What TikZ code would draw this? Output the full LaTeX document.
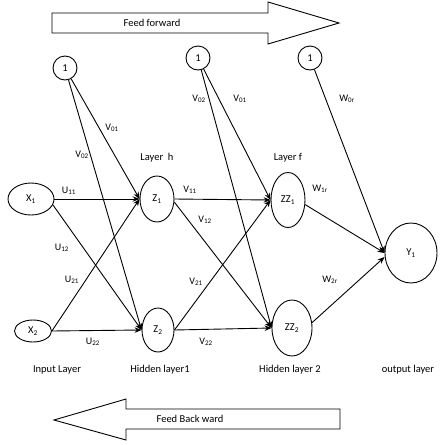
\documentclass[tikz,border=0pt]{standalone}
\usepackage{fontspec}
\setmainfont{Carlito}
\usetikzlibrary{arrows.meta, shapes.geometric}

\begin{document}
\begin{tikzpicture}[x=1pt, y=-1pt, line width=0.9pt,
  neuron/.style={draw, ellipse, inner sep=0pt, font=\fontsize{10.5}{12}\selectfont},
  bias/.style={draw, circle, minimum size=24pt, inner sep=0pt, font=\fontsize{10.5}{12}\selectfont},
  wt/.style={font=\fontsize{10}{12}\selectfont, inner sep=1pt},
  lbl/.style={font=\fontsize{10.5}{12}\selectfont, inner sep=1pt},
  conn/.style={-{Stealth[length=7pt,width=5.5pt]}},
]
  \useasboundingbox (0,0) rectangle (441,445);

  \draw (52,13) -- (268,13) -- (268,2) -- (339,23) -- (268,44) -- (268,33) -- (52,33) -- cycle;
  \node[lbl] (ff) at (152,23) {Feed forward};
  \draw (54,420) -- (126,399) -- (126,409) -- (340,409) -- (340,429) -- (126,429) -- (126,440) -- cycle;
  \node[lbl] (fb) at (190,419) {Feed Back ward};

  \node[bias] (b1) at (65,68) {1};
  \node[bias] (b2) at (198,58) {1};
  \node[bias] (b3) at (310,58) {1};
  \node[neuron, minimum width=46pt, minimum height=32pt] (x1) at (31,199) {X\textsubscript{1}};
  \node[neuron, minimum width=37pt, minimum height=22pt] (x2) at (33,331) {X\textsubscript{2}};
  \node[neuron, minimum width=34pt, minimum height=46pt] (z1) at (157,199) {Z\textsubscript{1}};
  \node[neuron, minimum width=32pt, minimum height=44pt] (z2) at (158,330) {Z\textsubscript{2}};
  \node[neuron, minimum width=34pt, minimum height=55pt] (zz1) at (288,200) {ZZ\textsubscript{1}};
  \node[neuron, minimum width=40pt, minimum height=56pt] (zz2) at (292,328) {ZZ\textsubscript{2}};
  \node[neuron, minimum width=52pt, minimum height=60pt] (y1) at (411,253) {Y\textsubscript{1}};

  \node[lbl] (lh) at (157,158) {Layer\ \ h};
  \node[lbl] (lf) at (288,158) {Layer f};
  \node[lbl] (in) at (57,370) {Input Layer};
  \node[lbl] (h1) at (160,370) {Hidden layer1};
  \node[lbl] (h2) at (290,370) {Hidden layer 2};
  \node[lbl] (out) at (408,370) {output layer};

  \draw[conn] (x1.east) -- (z1.west);
  \draw[conn] (x1.-15) -- (z2.west);
  \draw[conn] (x2.east) -- (z1.west);
  \draw[conn] (x2.east) -- (z2.west);
  \draw[conn] (b1) -- (z1.west);
  \draw[conn] (b1) -- (z2.west);
  \draw[conn] (z1.east) -- (zz1.west);
  \draw[conn] (z1.-10) -- (zz2.west);
  \draw[conn] (z2.east) -- (zz1.west);
  \draw[conn] (z2.east) -- (zz2.west);
  \draw[conn] (b2) -- (zz1.west);
  \draw[conn] (b2) -- (zz2.west);
  \draw[conn] (zz1.-15) -- (y1.west);
  \draw[conn] (zz2.15) -- ([yshift=-4pt]y1.west);
  \draw[conn] (b3) -- (y1.west);

  \node[wt] (u11) at (69,191) {U\textsubscript{11}};
  \node[wt] (u12) at (62,248) {U\textsubscript{12}};
  \node[wt] (u21) at (72,280) {U\textsubscript{21}};
  \node[wt] (u22) at (93,342) {U\textsubscript{22}};
  \node[wt] (v01a) at (112,128) {V\textsubscript{01}};
  \node[wt] (v02a) at (82,155) {V\textsubscript{02}};
  \node[wt] (v11) at (190,190) {V\textsubscript{11}};
  \node[wt] (v12) at (205,220) {V\textsubscript{12}};
  \node[wt] (v21) at (196,282) {V\textsubscript{21}};
  \node[wt] (v22) at (206,342) {V\textsubscript{22}};
  \node[wt] (v02b) at (199,99) {V\textsubscript{02}};
  \node[wt] (v01b) at (240,99) {V\textsubscript{01}};
  \node[wt] (w0r) at (347,99) {W\textsubscript{0r}};
  \node[wt] (w1r) at (320,189) {W\textsubscript{1r}};
  \node[wt] (w2r) at (330,280) {W\textsubscript{2r}};
\end{tikzpicture}
\end{document}
